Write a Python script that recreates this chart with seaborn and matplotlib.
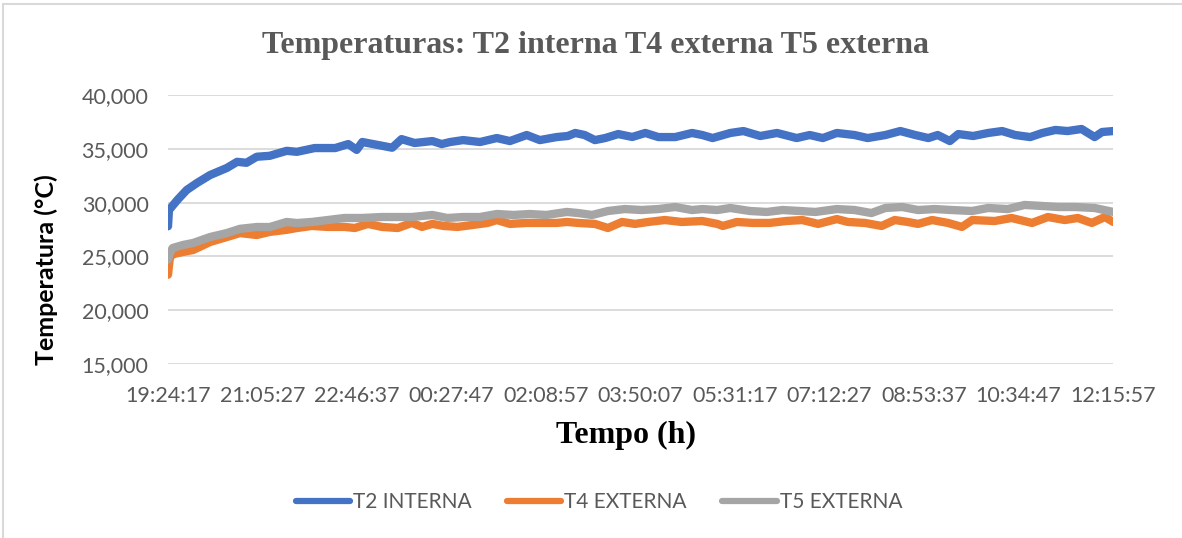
import matplotlib
matplotlib.use("Agg")
import matplotlib.pyplot as plt
from matplotlib.lines import Line2D
from matplotlib.ticker import FuncFormatter
import numpy as np
import pandas as pd
import seaborn as sns

# elapsed time in minutes since 19:24:17, and readings (°C x 1000)
t2_min = [0, 1, 10, 20, 31, 45, 63, 74, 84, 95, 109, 127, 138, 157, 179, 193, 202, 208, 225, 240,
          250, 264, 283, 293, 302, 316, 334, 352, 366, 384, 398, 416, 428, 436, 446, 457, 468, 482, 497, 511,
          525, 543, 561, 572, 583, 602, 616, 634, 652, 673, 687, 701, 716, 735, 749, 768, 784, 800, 814, 824,
          837, 846, 862, 878, 893, 907, 923, 936, 950, 963, 978, 992, 1000, 1012]
t2_interna = [27800, 29300, 30240, 31170, 31820, 32560, 33220, 33790, 33700, 34260,
              34350, 34810, 34720, 35070, 35070, 35440, 34900, 35630, 35350, 35100,
              35900, 35540, 35720, 35440, 35630, 35810, 35630, 36000, 35720, 36280,
              35810, 36090, 36190, 36470, 36280, 35810, 36000, 36370, 36100, 36470,
              36090, 36090, 36470, 36280, 36000, 36470, 36650, 36190, 36470, 36000,
              36280, 36000, 36470, 36280, 36000, 36280, 36650, 36280, 36000, 36280,
              35720, 36370, 36190, 36470, 36650, 36280, 36090, 36470, 36750, 36650,
              36840, 36090, 36560, 36650]

t4_min = [0, 2, 5, 16, 27, 45, 63, 77, 95, 109, 127, 138, 154, 171, 189, 200, 214, 229, 246, 261,
          272, 283, 295, 310, 327, 342, 352, 366, 384, 401, 416, 427, 439, 457, 471, 486, 500, 514, 532, 550,
          572, 588, 594, 609, 626, 644, 662, 679, 696, 716, 728, 746, 764, 778, 792, 803, 818, 835, 850, 861,
          885, 903, 925, 942, 960, 974, 989, 1003, 1012]
t4_externa = [23300, 24900, 25200, 25410, 25600, 26340, 26800, 27170, 26990, 27280,
              27470, 27640, 27830, 27740, 27740, 27640, 28020, 27740, 27640, 28110,
              27740, 28020, 27830, 27740, 27930, 28110, 28380, 28020, 28110, 28110,
              28110, 28200, 28110, 28020, 27640, 28200, 28020, 28200, 28380, 28200,
              28290, 28020, 27830, 28200, 28110, 28110, 28290, 28380, 28020, 28470,
              28200, 28110, 27830, 28380, 28200, 28020, 28380, 28110, 27740, 28380,
              28290, 28570, 28110, 28660, 28380, 28570, 28110, 28660, 28200]

t5_min = [0, 2, 5, 16, 27, 45, 63, 77, 95, 109, 127, 138, 154, 171, 189, 208, 229, 243, 261, 283,
          299, 316, 334, 352, 370, 387, 405, 427, 439, 454, 471, 489, 507, 525, 543, 561, 572, 588, 602, 623,
          641, 658, 676, 693, 716, 735, 753, 768, 786, 803, 821, 839, 861, 878, 899, 917, 935, 953, 971, 992,
          1012]
t5_externa = [24700, 25300, 25780, 26060, 26250, 26800, 27170, 27560, 27730, 27730,
              28200, 28100, 28200, 28380, 28570, 28570, 28660, 28660, 28660, 28850,
              28570, 28660, 28660, 28940, 28850, 28940, 28850, 29130, 29030, 28850,
              29220, 29400, 29310, 29400, 29590, 29310, 29400, 29310, 29500, 29220,
              29130, 29310, 29220, 29130, 29400, 29310, 29030, 29500, 29590, 29310,
              29400, 29310, 29220, 29500, 29400, 29780, 29690, 29590, 29590, 29500,
              29130]

series_names = ["T2 INTERNA", "T4 EXTERNA", "T5 EXTERNA"]
series_colors = ["#4472C4", "#ED7D31", "#A5A5A5"]

x_tick_labels = ["19:24:17", "21:05:27", "22:46:37", "00:27:47", "02:08:57", "03:50:07",
                 "05:31:17", "07:12:27", "08:53:37", "10:34:47", "12:15:57"]
tick_step_min = 6070 / 60.0
y_ticks = [15000, 20000, 25000, 30000, 35000, 40000]

df = pd.concat([
    pd.DataFrame({"minutos": t2_min, "temp": t2_interna, "serie": series_names[0]}),
    pd.DataFrame({"minutos": t4_min, "temp": t4_externa, "serie": series_names[1]}),
    pd.DataFrame({"minutos": t5_min, "temp": t5_externa, "serie": series_names[2]}),
], ignore_index=True)

sns.set_theme(style="white")
plt.rcParams["font.family"] = ["Lato", "DejaVu Sans"]

W, H = 1182, 538
fig = plt.figure(figsize=(W / 100, H / 100), dpi=100)
ax = fig.add_axes([168 / W, 1 - 364 / H, (1113 - 168) / W, (364 - 95) / H])

sns.lineplot(data=df, x="minutos", y="temp", hue="serie", hue_order=series_names,
             palette=series_colors, estimator=None, sort=False, linewidth=6.0,
             solid_capstyle="round", solid_joinstyle="round", legend=False, ax=ax, zorder=3)

ax.set_xlim(0, 10 * tick_step_min)
ax.set_ylim(15000, 40000)
ax.set_xticks([i * tick_step_min for i in range(len(x_tick_labels))])
ax.set_xticklabels(x_tick_labels)
ax.set_yticks(y_ticks)
ax.yaxis.set_major_formatter(FuncFormatter(lambda v, p: f"{v:,.0f}"))
ax.tick_params(axis="both", length=0, labelsize=15.5, labelcolor="#595959")
ax.tick_params(axis="y", pad=14)
ax.tick_params(axis="x", pad=16)
ax.grid(axis="y", color="#D9D9D9", linewidth=1.3)
ax.grid(axis="x", visible=False)
for s in ax.spines.values():
    s.set_visible(False)
ax.set_xlabel("")
ax.set_ylabel("")

fig.text(596 / W, 1 - 46 / H, "Temperaturas: T2 interna T4 externa T5 externa",
         ha="center", va="center", fontsize=23, fontweight="bold",
         family=["Liberation Serif", "DejaVu Serif"], color="#595959")
fig.text(626 / W, 1 - 435 / H, "Tempo (h)", ha="center", va="center", fontsize=23,
         fontweight="bold", family=["Liberation Serif", "DejaVu Serif"], color="black")
fig.text(46 / W, 1 - 270 / H, "Temperatura (°C)", ha="center", va="center", rotation=90,
         fontsize=18, fontweight="bold", color="black")

handles = [Line2D([0], [0], color=c, linewidth=4.5, solid_capstyle="round") for c in series_colors]
fig.legend(handles, series_names, loc="center", bbox_to_anchor=(599 / W, 1 - 502 / H),
           ncol=3, frameon=False, fontsize=15, labelcolor="#595959", handlelength=2.6,
           handletextpad=0.15, columnspacing=1.7)

# chart area frame
fig.add_artist(Line2D([3 / W, 1.0], [1 - 4 / H, 1 - 4 / H], color="#D9D9D9", linewidth=1.5))
fig.add_artist(Line2D([3 / W, 3 / W], [1 - 4 / H, 0.0], color="#D9D9D9", linewidth=1.5))

fig.savefig("out.png", dpi=100)
